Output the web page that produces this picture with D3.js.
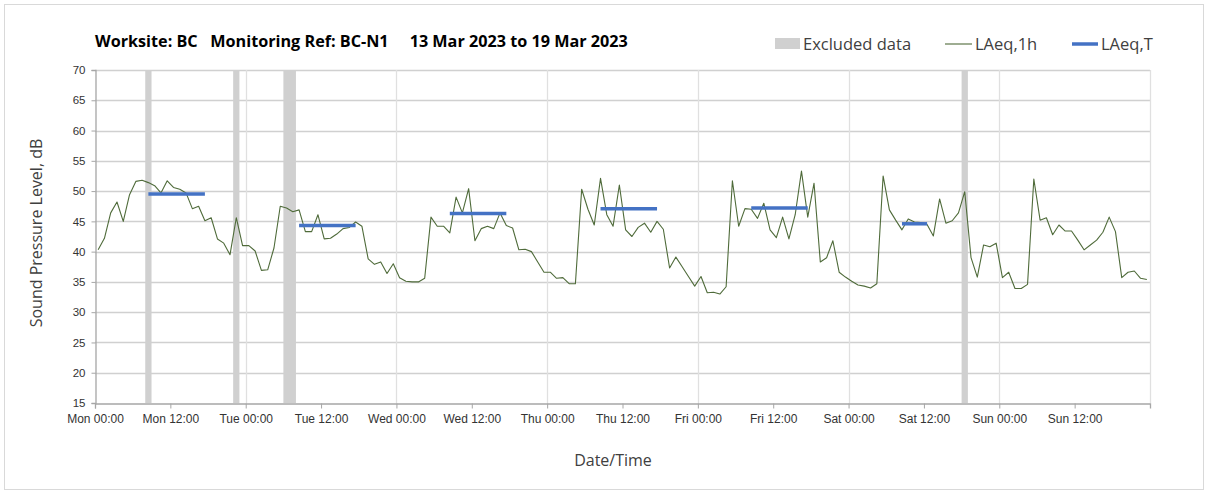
<!DOCTYPE html>
<html>
<head>
<meta charset="utf-8">
<script src="https://cdn.jsdelivr.net/npm/d3@7"></script>
<style>
  body { margin: 0; background: #fff; }
  svg { display: block; font-family: "Open Sans", sans-serif; }
</style>
</head>
<body>
<svg id="chart"></svg>
<script>
const width = 1208;
const height = 494;
const margin = { top: 70, right: 58, bottom: 91, left: 95 };

// hourly LAeq,1h values from Mon 13 Mar 2023 00:00, one per hour
const laeq1h = [
  40.3, 42.2, 46.4, 48.2, 45.0, 49.4, 51.6, 51.8, 51.4, 50.9, 49.7, 51.7,
  50.6, 50.3, 49.7, 47.1, 47.5, 45.1, 45.6, 42.1, 41.4, 39.5, 45.6, 41.0,
  41.0, 40.1, 36.9, 37.0, 40.6, 47.5, 47.2, 46.6, 46.9, 43.3, 43.3, 46.1,
  42.1, 42.2, 42.9, 43.8, 44.0, 44.9, 44.2, 38.8, 37.9, 38.3, 36.4, 38.0,
  35.7, 35.1, 35.0, 35.0, 35.6, 45.7, 44.2, 44.2, 43.1, 49.0, 46.4, 50.4,
  41.8, 43.8, 44.2, 43.8, 46.4, 44.3, 43.9, 40.3, 40.4, 40.0, 38.3, 36.6,
  36.6, 35.6, 35.7, 34.7, 34.7, 50.3, 47.0, 44.4, 52.1, 46.1, 44.2, 51.0,
  43.6, 42.5, 44.0, 44.7, 43.2, 45.0, 43.7, 37.3, 39.1, 37.5, 35.9, 34.3,
  35.9, 33.2, 33.3, 33.0, 34.2, 51.7, 44.2, 47.1, 47.0, 45.5, 48.0, 43.6,
  42.3, 45.7, 42.1, 46.1, 53.3, 45.7, 51.3, 38.3, 39.0, 41.8, 36.6, 35.8,
  35.1, 34.5, 34.3, 34.0, 34.7, 52.5, 46.9, 45.2, 43.6, 45.4, 44.9, 44.8,
  44.5, 42.6, 48.7, 44.7, 45.1, 46.4, 49.9, 39.0, 35.8, 41.1, 40.8, 41.4,
  35.7, 36.6, 33.9, 33.9, 34.6, 52.0, 45.2, 45.6, 42.8, 44.4, 43.4, 43.4,
  41.9, 40.3, 41.1, 41.9, 43.2, 45.7, 43.3, 35.7, 36.6, 36.8, 35.6, 35.4
];

// daytime LAeq,T periods (first and last hourly slot) and values
const periodFrom = ["2023-03-13T08:00", "2023-03-14T08:00", "2023-03-15T08:00",
                    "2023-03-16T08:00", "2023-03-17T08:00", "2023-03-18T08:00"];
const periodTo   = ["2023-03-13T17:00", "2023-03-14T17:00", "2023-03-15T17:00",
                    "2023-03-16T17:00", "2023-03-17T17:00", "2023-03-18T12:00"];
const laeqT = [49.5, 44.3, 46.3, 47.1, 47.2, 44.6];

// excluded data windows
const excludedFrom = ["2023-03-13T08:00", "2023-03-13T22:00", "2023-03-14T06:00", "2023-03-18T18:00"];
const excludedTo   = ["2023-03-13T09:00", "2023-03-13T23:00", "2023-03-14T08:00", "2023-03-18T19:00"];

const yTicks = [15, 20, 25, 30, 35, 40, 45, 50, 55, 60, 65, 70];

const start = new Date("2023-03-13T00:00");
const end = new Date("2023-03-20T00:00");
const hourSlots = laeq1h.map((v, i) => ({ t: d3.timeHour.offset(start, i), v: v }));
const mid = t => d3.timeMinute.offset(t, 30);
const parse = s => new Date(s);

const svg = d3.select("#chart")
  .attr("width", width)
  .attr("height", height);

// outer frame
svg.append("rect")
  .attr("x", 4.5).attr("y", 4.5)
  .attr("width", width - 9).attr("height", height - 9)
  .attr("fill", "#fff")
  .attr("stroke", "#d9d9d9");

// SCALES
const xScale = d3.scaleTime()
  .domain([start, end])
  .range([margin.left, width - margin.right]);

const yScale = d3.scaleLinear()
  .domain([15, 70])
  .range([height - margin.bottom, margin.top]);

// EXCLUDED BANDS
svg.append("g")
  .selectAll("rect")
  .data(excludedFrom)
  .join("rect")
    .attr("x", d => xScale(parse(d)))
    .attr("y", yScale(70))
    .attr("width", (d, i) => xScale(parse(excludedTo[i])) - xScale(parse(d)))
    .attr("height", yScale(15) - yScale(70))
    .attr("fill", "#d0d0d0");

// GRIDLINES
svg.append("g")
  .selectAll("line")
  .data(yTicks.slice(1))
  .join("line")
    .attr("x1", margin.left).attr("x2", width - margin.right)
    .attr("y1", d => Math.round(yScale(d)) + 0.5)
    .attr("y2", d => Math.round(yScale(d)) + 0.5)
    .attr("stroke", "#d0d0d0")
    .attr("stroke-width", 1.3);

svg.append("g")
  .selectAll("line")
  .data(d3.timeDay.range(d3.timeDay.offset(start, 1), d3.timeDay.offset(end, 1)))
  .join("line")
    .attr("x1", d => Math.round(xScale(d)) + 0.5)
    .attr("x2", d => Math.round(xScale(d)) + 0.5)
    .attr("y1", yScale(70)).attr("y2", yScale(15))
    .attr("stroke", "#e0e0e0")
    .attr("stroke-width", 1.3);

// AXES
const xAxis = d3.axisBottom(xScale)
  .tickValues(d3.timeHour.every(12).range(start, end))
  .tickFormat(d3.timeFormat("%a %H:%M"))
  .tickSize(5)
  .tickPadding(6);

const yAxis = d3.axisLeft(yScale)
  .tickValues(yTicks)
  .tickSize(4)
  .tickPadding(6);

const gx = svg.append("g")
  .attr("transform", `translate(0, ${Math.round(yScale(15)) + 0.5})`)
  .call(xAxis);
gx.select(".domain").attr("stroke", "#a6a6a6").attr("stroke-width", 1.3);
gx.selectAll(".tick line").attr("stroke", "#a6a6a6");
gx.selectAll(".tick text").attr("fill", "#333").style("font-size", "12px");

const gy = svg.append("g")
  .attr("transform", `translate(${Math.round(margin.left) + 0.5}, 0)`)
  .call(yAxis);
gy.select(".domain").attr("stroke", "#a6a6a6").attr("stroke-width", 1.3);
gy.selectAll(".tick line").attr("stroke", "#a6a6a6");
gy.selectAll(".tick text").attr("fill", "#333").style("font-size", "11.5px");

// LAeq,1h LINE
const line = d3.line()
  .x(d => xScale(mid(d.t)))
  .y(d => yScale(d.v));

svg.append("path")
  .datum(hourSlots)
  .attr("d", line)
  .attr("fill", "none")
  .attr("stroke", "#4f6b3a")
  .attr("stroke-width", 1.1)
  .attr("stroke-linejoin", "round");

// LAeq,T SEGMENTS
svg.append("g")
  .selectAll("line")
  .data(laeqT)
  .join("line")
    .attr("x1", (d, i) => xScale(mid(parse(periodFrom[i]))))
    .attr("x2", (d, i) => xScale(mid(parse(periodTo[i]))))
    .attr("y1", d => yScale(d))
    .attr("y2", d => yScale(d))
    .attr("stroke", "#4472c4")
    .attr("stroke-width", 3.5);

// TITLE
svg.append("text")
  .attr("x", 95)
  .attr("y", 47)
  .style("font-size", "16.2px")
  .style("font-weight", "bold")
  .attr("fill", "#000")
  .attr("xml:space", "preserve")
  .text("Worksite: BC   Monitoring Ref: BC-N1     13 Mar 2023 to 19 Mar 2023");

// LEGEND
const legend = svg.append("g").style("font-size", "16.5px").attr("fill", "#404040");
legend.append("rect")
  .attr("x", 775).attr("y", 38).attr("width", 25).attr("height", 11)
  .attr("fill", "#d0d0d0");
legend.append("text").attr("x", 803).attr("y", 50).text("Excluded data");
legend.append("line")
  .attr("x1", 945).attr("x2", 972).attr("y1", 44).attr("y2", 44)
  .attr("stroke", "#4f6b3a").attr("stroke-width", 1.1);
legend.append("text").attr("x", 975).attr("y", 50).text("LAeq,1h");
legend.append("line")
  .attr("x1", 1072).attr("x2", 1098).attr("y1", 44).attr("y2", 44)
  .attr("stroke", "#4472c4").attr("stroke-width", 3.5);
legend.append("text").attr("x", 1101).attr("y", 50).text("LAeq,T");

// AXIS TITLES
svg.append("text")
  .attr("x", 613)
  .attr("y", 466)
  .style("text-anchor", "middle")
  .style("font-size", "16px")
  .attr("fill", "#404040")
  .text("Date/Time");

svg.append("text")
  .attr("transform", "rotate(-90)")
  .attr("x", -233)
  .attr("y", 42)
  .style("text-anchor", "middle")
  .style("font-size", "16px")
  .attr("fill", "#404040")
  .text("Sound Pressure Level, dB");
</script>
</body>
</html>
